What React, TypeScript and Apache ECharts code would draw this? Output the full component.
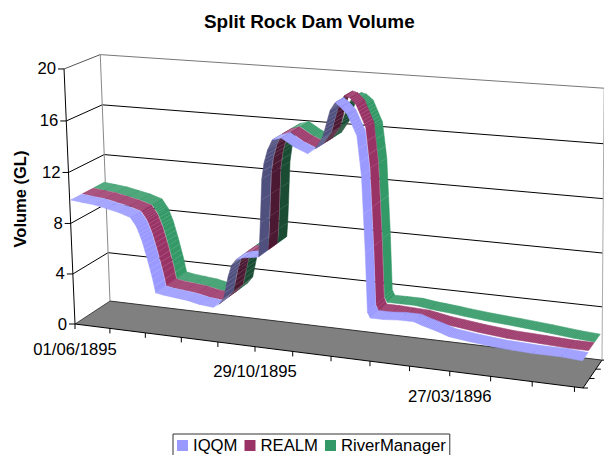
import React, { useEffect, useRef } from "react";
import * as echarts from "echarts";

const titleText = "Split Rock Dam Volume";
const yAxisTitle = "Volume (GL)";
const yTicks = [0, 4, 8, 12, 16, 20];
const xTicks = [0, 30, 60, 90, 120, 150, 180, 210, 240, 270, 300, 330, 360, 390];
const xTickLabels = [
  { day: 0, text: "01/06/1895" },
  { day: 150, text: "29/10/1895" },
  { day: 300, text: "27/03/1896" },
];
const lastDay = 396;
const days = [0, 10, 20, 30, 40, 50, 55, 59, 63, 67, 69, 75, 85, 95, 105, 116, 121, 125, 129, 132, 136, 142, 150, 154, 155, 156, 157, 158, 160, 163, 167, 174, 184, 194, 200, 206, 212, 216, 220, 225, 232, 235, 237, 238, 240, 250, 262, 273, 279, 290, 299, 315, 336, 360, 380, 395];
const iqqm = [9.8, 9.7, 9.6, 9.4, 9.2, 8.9, 8.2, 7.2, 5.8, 4.2, 3.2, 3.1, 3.0, 2.9, 2.7, 2.6, 2.9, 3.4, 5.1, 6.0, 6.5, 6.7, 6.8, 6.9, 8.0, 9.5, 11.2, 12.8, 14.0, 15.0, 15.8, 16.0, 15.4, 15.0, 15.4, 16.3, 18.3, 18.9, 18.6, 18.1, 16.6, 13.7, 8.0, 3.6, 3.2, 3.2, 3.3, 3.3, 3.1, 2.8, 2.5, 2.3, 2.1, 2.0, 2.0, 1.9];
const realm = [9.8, 9.7, 9.6, 9.4, 9.2, 8.9, 8.2, 7.2, 5.8, 4.2, 3.2, 3.1, 3.0, 2.9, 2.7, 2.6, 2.9, 3.4, 5.1, 6.0, 6.5, 6.7, 6.8, 6.9, 8.0, 9.5, 11.2, 12.8, 14.0, 15.0, 15.8, 16.0, 15.4, 15.0, 15.4, 16.3, 18.4, 19.0, 18.9, 18.4, 16.8, 13.8, 8.0, 3.6, 3.1, 3.1, 3.05, 3.0, 2.9, 2.7, 2.6, 2.4, 2.2, 2.1, 2.0, 2.0];
const riverManager = [9.8, 9.7, 9.6, 9.4, 9.2, 8.9, 8.2, 7.2, 5.8, 4.2, 3.2, 3.1, 3.0, 2.9, 2.7, 2.5, 2.9, 3.4, 5.1, 6.0, 6.5, 6.7, 6.8, 6.9, 8.0, 9.5, 11.2, 12.8, 14.0, 15.0, 15.8, 16.0, 15.4, 15.0, 15.4, 16.3, 18.0, 18.5, 18.4, 18.0, 16.4, 13.7, 8.0, 3.6, 3.2, 3.2, 3.2, 3.05, 3.0, 2.9, 2.8, 2.65, 2.5, 2.3, 2.1, 2.0];
const seriesNames = ["IQQM", "REALM", "RiverManager"];
const lightColors = ["#9999FF", "#993366", "#339966"];
const darkColors = ["#50507F", "#4C1933", "#194C33"];
const depthFront = [0.03, 0.35, 0.67];
const depthBack = [0.33, 0.65, 0.97];
const FONT = "Liberation Sans, Arial, sans-serif";

// Perspective projection of the unit cube (u along dates, d into the page, h up)
function project(u: number, d: number, h: number): [number, number] {
  const w = 1 - 0.1 * u + 0.0364 * d - 0.024 * h;
  const x = 75 + 449.7 * u + 39 * d - 12.5 * h;
  const y = 324 + 25.2 * u - 12 * d - 256.7 * h;
  return [x / w, y / w];
}

function toScreen(api: any, params: any, day: number, value: number, d: number): [number, number] {
  const c = api.coord([day, value]);
  const r = params.coordSys;
  return project((c[0] - r.x) / r.width, d, (r.y + r.height - c[1]) / r.height);
}

function line(a: number[], b: number[], stroke: string, lineWidth = 1, opacity = 1) {
  return {
    type: "line",
    shape: { x1: a[0], y1: a[1], x2: b[0], y2: b[1] },
    style: { stroke, lineWidth, opacity },
    silent: true,
  };
}

function label(text: string, x: number, y: number, textAlign: string) {
  return {
    type: "text",
    silent: true,
    style: { text, x, y, textAlign, textVerticalAlign: "middle", fill: "#000", font: `16.7px ${FONT}` },
  };
}

function renderFrame(params: any, api: any) {
  const P = (day: number, v: number, d: number) => toScreen(api, params, day, v, d);
  const children: any[] = [];
  children.push({
    type: "polygon",
    silent: true,
    shape: { points: [P(0, 0, 0), P(lastDay, 0, 0), P(lastDay, 0, 1), P(0, 0, 1)] },
    style: { fill: "#808080" },
  });
  yTicks.forEach((t) => {
    const top = t === yTicks[yTicks.length - 1];
    if (t > 0) children.push(line(P(0, t, 0), P(0, t, 1), top ? "#555" : "#000"));
    if (t > 0) children.push(line(P(0, t, 1), P(lastDay, t, 1), top ? "#777" : "#000"));
    const a = P(0, t, 0);
    children.push(line([a[0] - 6, a[1]], a, "#000"));
    children.push(label(String(t), a[0] - 8, a[1], "right"));
  });
  children.push(line(P(0, 0, 1), P(lastDay, 0, 1), "#333"));
  children.push(line(P(0, 0, 1), P(0, 20, 1), "#888"));
  children.push(line(P(lastDay, 0, 1), P(lastDay, 20, 1), "#aaa"));
  children.push(line(P(0, 0, 0), P(0, 20, 0), "#000"));
  children.push(line(P(0, 0, 0), P(0, 0, 1), "#000", 0.6));
  children.push(line(P(0, 0, 0), P(lastDay, 0, 0), "#000"));
  children.push(line(P(lastDay, 0, 0), P(lastDay, 0, 1), "#000"));
  xTicks.forEach((t) => {
    const a = P(t, 0, 0);
    children.push(line(a, [a[0], a[1] + 5], "#000"));
  });
  [0, 1 / 3, 2 / 3, 1].forEach((d) => {
    const a = P(lastDay, 0, d);
    children.push(line(a, [a[0] + 5, a[1]], "#000"));
  });
  xTickLabels.forEach((t) => {
    const a = P(t.day, 0, 0);
    children.push(label(t.text, a[0], a[1] + 25, "center"));
  });
  return { type: "group", children };
}

function ribbon(idx: number) {
  return (params: any, api: any) => {
    const day0 = api.value(0);
    const v0 = api.value(1);
    const day1 = api.value(2);
    const v1 = api.value(3);
    const a = toScreen(api, params, day0, v0, depthFront[idx]);
    const b = toScreen(api, params, day1, v1, depthFront[idx]);
    const c = toScreen(api, params, day1, v1, depthBack[idx]);
    const e = toScreen(api, params, day0, v0, depthBack[idx]);
    const cross = (b[0] - a[0]) * (e[1] - a[1]) - (b[1] - a[1]) * (e[0] - a[0]);
    const color = cross > 0 ? darkColors[idx] : lightColors[idx];
    const children: any[] = [
      {
        type: "polygon",
        silent: true,
        shape: { points: [a, b, c, e] },
        style: { fill: color, stroke: color, lineWidth: 0.5 },
      },
    ];
    // daily cell edges across the ribbon: a fine hatch, as on the 3D surface
    const n = day1 - day0;
    for (let k = 1; k <= n; k++) {
      const f = k / n;
      const p = [a[0] + (b[0] - a[0]) * f, a[1] + (b[1] - a[1]) * f];
      const q = [e[0] + (c[0] - e[0]) * f, e[1] + (c[1] - e[1]) * f];
      children.push(line(p, q, "#ffffff", 0.5, 0.3));
    }
    return { type: "group", children };
  };
}

const valueArrays = [iqqm, realm, riverManager];

export default function App() {
  const ref = useRef<HTMLDivElement>(null);
  useEffect(() => {
    document.body.style.margin = "0";
    const chart = echarts.init(ref.current!, undefined, { renderer: "svg" });
    const ribbons = [2, 1, 0].map((idx) => ({
      type: "custom" as const,
      name: seriesNames[idx],
      coordinateSystem: "cartesian2d",
      clip: false,
      silent: true,
      z: 5 + (2 - idx),
      itemStyle: { color: lightColors[idx] },
      encode: { x: 0, y: 1 },
      renderItem: ribbon(idx),
      data: days.slice(0, -1).map((day, i) => [day, valueArrays[idx][i], days[i + 1], valueArrays[idx][i + 1]]),
    }));
    chart.setOption({
      animation: false,
      backgroundColor: "#fff",
      title: {
        text: titleText,
        left: 204,
        top: 12,
        padding: 0,
        textStyle: { fontFamily: FONT, fontSize: 18.9, fontWeight: "bold", color: "#000" },
      },
      legend: {
        data: seriesNames,
        left: 173,
        top: 434,
        orient: "horizontal",
        icon: "rect",
        itemWidth: 11,
        itemHeight: 11,
        itemGap: 7,
        padding: [3, 4, 8, 4],
        borderColor: "#333",
        borderWidth: 1,
        backgroundColor: "#fff",
        selectedMode: false,
        textStyle: { fontFamily: FONT, fontSize: 16.7, color: "#000" },
      },
      grid: { left: 100, top: 100, width: 400, height: 200, show: false },
      xAxis: { type: "value", min: 0, max: lastDay, show: false },
      yAxis: { type: "value", min: 0, max: 20, interval: 4, show: false },
      graphic: [
        {
          type: "text",
          x: 20,
          y: 199,
          rotation: Math.PI / 2,
          silent: true,
          style: {
            text: yAxisTitle,
            textAlign: "center",
            textVerticalAlign: "middle",
            fill: "#000",
            font: `bold 16.5px ${FONT}`,
          },
        },
      ],
      series: [
        {
          type: "custom",
          name: "frame",
          coordinateSystem: "cartesian2d",
          clip: false,
          silent: true,
          z: 1,
          encode: { x: 0, y: 1 },
          renderItem: renderFrame,
          data: [[0, 0]],
        },
        ...ribbons,
      ],
    });
    return () => chart.dispose();
  }, []);
  return <div ref={ref} style={{ position: "fixed", left: 0, top: 0, width: 604, height: 455, overflow: "hidden" }} />;
}
